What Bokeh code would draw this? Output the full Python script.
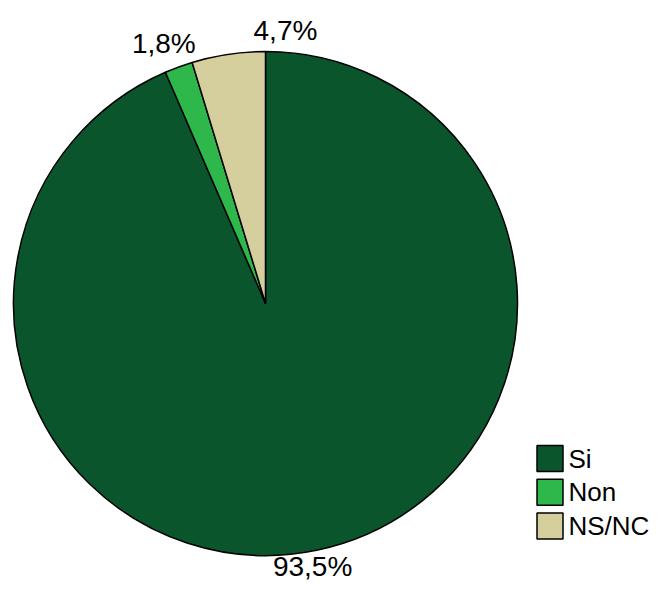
import math
from bokeh.plotting import figure
from bokeh.models import Range1d, ColumnDataSource
from bokeh.embed import file_html
from bokeh.resources import INLINE
from bokeh.core.properties import value

# ---- data ----
categories = ["Si", "Non", "NS/NC"]
percents = [93.5, 1.8, 4.7]
labels = ["93,5%", "1,8%", "4,7%"]
colors = ["#0b552d", "#2eb84b", "#d4cf9c"]

# ---- layout / style ----
W, H = 650, 582
CX, CY, R = 265, 279, 252
LABEL_R = 279
label_dx = [-9.5, -5.5, 61]
label_dy = [10.5, -2, -3]
FONT = value("Liberation Sans")
LABEL_SIZE = "28px"
LEGEND_SIZE = "26px"

p = figure(width=W, height=H, output_backend="svg", toolbar_location=None,
           x_range=Range1d(0, W), y_range=Range1d(0, H), min_border=0,
           x_axis_type=None, y_axis_type=None)
p.grid.visible = False
p.outline_line_color = None
p.background_fill_color = "white"
p.border_fill_color = "white"

total = sum(percents)
starts, ends, lx, ly = [], [], [], []
cum = 0.0
for i, v in enumerate(percents):
    a0 = math.pi / 2 - 2 * math.pi * cum / total
    cum += v
    a1 = math.pi / 2 - 2 * math.pi * cum / total
    starts.append(a0)
    ends.append(a1)
    mid = (a0 + a1) / 2
    lx.append(CX + LABEL_R * math.cos(mid) + label_dx[i])
    ly.append(CY + LABEL_R * math.sin(mid) + label_dy[i])

src = ColumnDataSource(dict(start=starts, end=ends, color=colors, cat=categories))
p.wedge(x=CX, y=CY, radius=R, start_angle="start", end_angle="end",
        direction="clock", fill_color="color", line_color="black",
        line_width=1.5, source=src)

p.text(x=lx, y=ly, text=labels, text_font=FONT, text_font_size=LABEL_SIZE,
       text_align="center", text_baseline="middle", text_color="black")

# legend (manual)
LEG_X, LEG_Y0, LEG_STEP, BOX = 549.5, 124, 33.75, 26
box_y = [LEG_Y0 - i * LEG_STEP for i in range(len(categories))]
p.rect(x=[LEG_X] * len(categories), y=box_y, width=BOX, height=BOX,
       width_units="screen", height_units="screen",
       fill_color=colors, line_color="black", line_width=1.5)
p.text(x=[LEG_X + BOX / 2 + 5.5] * len(categories), y=box_y, text=categories,
       text_font=FONT, text_font_size=LEGEND_SIZE, text_align="left",
       text_baseline="middle", text_color="black")

open("out.html", "w").write(file_html(p, INLINE))
